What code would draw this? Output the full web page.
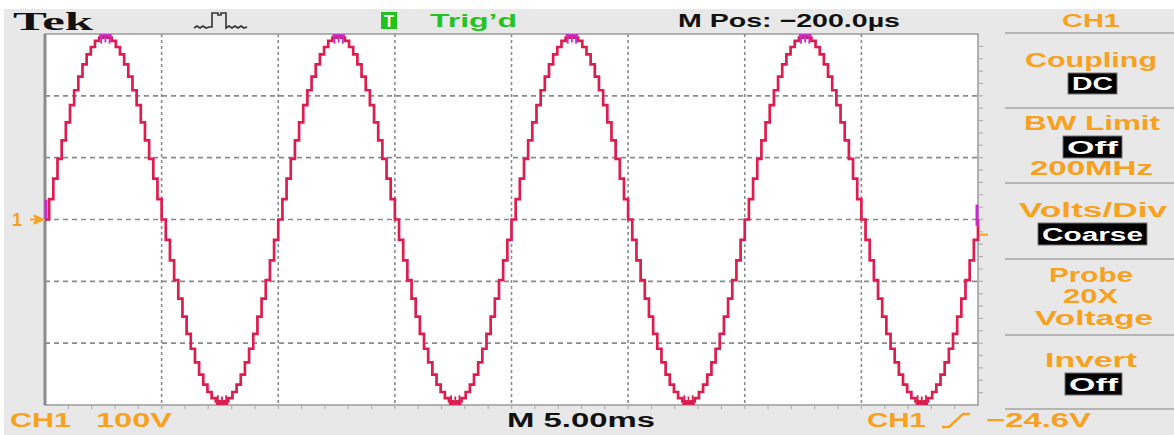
<!DOCTYPE html>
<html>
<head>
<meta charset="utf-8">
<script src="https://cdn.jsdelivr.net/npm/d3@7"></script>
<style>
  body { margin: 0; background: #fff; }
  text { font-family: 'Liberation Sans', Arial, sans-serif; font-weight: bold; }
</style>
</head>
<body>
<div id="scope"></div>
<script>
// one captured cycle of CH1 (volts per sample, staircase output)
const cycleVolts = [
  0, 33, 66, 98, 128, 157, 185, 209, 231, 251, 267, 279, 289, 294,
  296, 294, 289, 279, 267, 251, 231, 209, 185, 157, 128, 98, 66, 33,
  0, -33, -66, -98, -128, -157, -185, -209, -231, -251, -267, -279, -289, -294,
  -296, -294, -289, -279, -267, -251, -231, -209, -185, -157, -128, -98, -66, -33
]
const cycleCount = 4
const sampleMs = 10 / 56

const timeGridMs = [5, 10, 15, 20, 25, 30, 35]
const voltGrid = [-200, -100, 0, 100, 200]
const triggerLevel = -24.6

const width = 1174
const height = 435
const plot = { left: 45, right: 978, top: 34, bottom: 405 }

const orange = '#f7a11f'
const traceColor = '#dc1d4f'
const clipColor = '#c62bd0'

const svg = d3
  .select('#scope')
  .append('svg')
  .attr('width', width)
  .attr('height', height)

// trace samples
const samples = []
for (let c = 0; c < cycleCount; c++) {
  cycleVolts.forEach(v => samples.push(v))
}
samples.push(cycleVolts[0])
const points = samples.map((v, i) => ({ t: i * sampleMs, v: v }))

const xPositionScale = d3
  .scaleLinear()
  .domain([0, 40])
  .range([plot.left, plot.right])

const yPositionScale = d3
  .scaleLinear()
  .domain([-300, 300])
  .range([plot.bottom, plot.top])

// screen background
svg
  .append('rect')
  .attr('x', 4)
  .attr('y', 9)
  .attr('width', width - 4)
  .attr('height', height - 9)
  .attr('fill', '#e8e8e8')

svg
  .append('rect')
  .attr('x', plot.left)
  .attr('y', plot.top)
  .attr('width', plot.right - plot.left)
  .attr('height', plot.bottom - plot.top)
  .attr('fill', '#fff')

// grid
const grid = svg.append('g').attr('class', 'grid')
grid
  .selectAll('.vgrid')
  .data(timeGridMs)
  .enter()
  .append('line')
  .attr('x1', d => xPositionScale(d))
  .attr('x2', d => xPositionScale(d))
  .attr('y1', plot.top)
  .attr('y2', plot.bottom)
  .attr('stroke', '#8a8a8a')
  .attr('stroke-width', 1.6)
  .attr('stroke-dasharray', '3,3')

grid
  .selectAll('.hgrid')
  .data(voltGrid)
  .enter()
  .append('line')
  .attr('x1', plot.left)
  .attr('x2', plot.right)
  .attr('y1', d => yPositionScale(d))
  .attr('y2', d => yPositionScale(d))
  .attr('stroke', '#8a8a8a')
  .attr('stroke-width', 1.6)
  .attr('stroke-dasharray', '5,4')

// minor ticks along bottom and right edge
const minorX = d3.range(1, 40)
const minorY = d3.range(-280, 300, 20)
grid
  .selectAll('.mx')
  .data(minorX)
  .enter()
  .append('line')
  .attr('x1', d => xPositionScale(d))
  .attr('x2', d => xPositionScale(d))
  .attr('y1', plot.bottom + 1)
  .attr('y2', plot.bottom + 4)
  .attr('stroke', '#b0b0b0')
  .attr('stroke-width', 1.2)
grid
  .selectAll('.my')
  .data(minorY)
  .enter()
  .append('line')
  .attr('x1', plot.right + 1)
  .attr('x2', plot.right + 5)
  .attr('y1', d => yPositionScale(d))
  .attr('y2', d => yPositionScale(d))
  .attr('stroke', '#b0b0b0')
  .attr('stroke-width', 1.2)

// frame
svg
  .append('rect')
  .attr('x', plot.left)
  .attr('y', plot.top)
  .attr('width', plot.right - plot.left)
  .attr('height', plot.bottom - plot.top)
  .attr('fill', 'none')
  .attr('stroke', '#9a9a9a')
  .attr('stroke-width', 1.5)
svg
  .append('line')
  .attr('x1', plot.left)
  .attr('x2', plot.left)
  .attr('y1', plot.top)
  .attr('y2', plot.bottom)
  .attr('stroke', '#8c8c8c')
  .attr('stroke-width', 3)

// waveform
const line = d3
  .line()
  .x(d => xPositionScale(d.t))
  .y(d => yPositionScale(d.v))
  .curve(d3.curveStepAfter)

svg
  .append('path')
  .datum(points)
  .attr('d', line)
  .attr('fill', 'none')
  .attr('stroke', traceColor)
  .attr('stroke-width', 2.7)

// clipped peaks: flat top/bottom with small ticks
const peaks = points.filter(d => Math.abs(d.v) >= 294)
svg
  .selectAll('.peak')
  .data(peaks)
  .enter()
  .append('line')
  .attr('x1', d => xPositionScale(d.t))
  .attr('x2', d => xPositionScale(d.t + sampleMs))
  .attr('y1', d => yPositionScale(d.v > 0 ? 298 : -298))
  .attr('y2', d => yPositionScale(d.v > 0 ? 298 : -298))
  .attr('stroke', d => (d.v > 0 ? clipColor : traceColor))
  .attr('stroke-width', 2.4)
svg
  .selectAll('.peaktick')
  .data(peaks)
  .enter()
  .append('line')
  .attr('x1', d => xPositionScale(d.t + sampleMs / 2))
  .attr('x2', d => xPositionScale(d.t + sampleMs / 2))
  .attr('y1', d => yPositionScale(d.v > 0 ? 298 : -298))
  .attr('y2', d => yPositionScale(d.v) + (d.v > 0 ? 6 : -6))
  .attr('stroke', d => (d.v > 0 ? clipColor : traceColor))
  .attr('stroke-width', 1.8)

// trace ends in magenta
svg
  .append('line')
  .attr('x1', plot.left + 1)
  .attr('x2', plot.left + 1)
  .attr('y1', yPositionScale(0))
  .attr('y2', yPositionScale(32))
  .attr('stroke', clipColor)
  .attr('stroke-width', 3)
svg
  .append('line')
  .attr('x1', plot.right - 1)
  .attr('x2', plot.right - 1)
  .attr('y1', yPositionScale(-10))
  .attr('y2', yPositionScale(24))
  .attr('stroke', clipColor)
  .attr('stroke-width', 3)

// helpers for text
function label(x, y, str, len, color, size, family) {
  const t = svg
    .append('text')
    .attr('x', x)
    .attr('y', y)
    .attr('fill', color)
    .attr('font-size', size)
    .attr('textLength', len)
    .attr('lengthAdjust', 'spacingAndGlyphs')
    .text(str)
  if (family) t.style('font-family', family)
  return t
}

function box(x0, y0, x1, y1, str, size) {
  svg
    .append('rect')
    .attr('x', x0)
    .attr('y', y0)
    .attr('width', x1 - x0)
    .attr('height', y1 - y0)
    .attr('fill', '#000')
    .attr('stroke', '#777')
    .attr('stroke-width', 1)
  label(x0 + 4, y1 - 4, str, x1 - x0 - 8, '#fff', size)
}

// top bar
label(13, 30, 'Tek', 80, '#111', 25, "'Liberation Serif', 'DejaVu Serif', serif")
svg
  .append('path')
  .attr(
    'd',
    'M194,28 l3,-2 l3,2 l3,-2 l3,2 l3,-1 l3,0 V13 h6 v2 h3 v-2 h5 V28 l3,-2 l3,2 l3,-2 l3,2 l3,-2 l3,2 l3,-1'
  )
  .attr('fill', 'none')
  .attr('stroke', '#333')
  .attr('stroke-width', 1.6)

svg
  .append('rect')
  .attr('x', 381)
  .attr('y', 12)
  .attr('width', 16)
  .attr('height', 17)
  .attr('fill', '#1fc21f')
label(384, 27, 'T', 10, '#fff', 16)
label(430, 27, 'Trig\u2019d', 87, '#22c322', 19)
label(678, 27, 'M Pos: \u2212200.0\u00b5s', 222, '#111', 19)

// right menu
label(1062, 27, 'CH1', 58, orange, 19)
const separators = [33, 108, 183, 259, 335, 409]
svg
  .selectAll('.sep')
  .data(separators)
  .enter()
  .append('line')
  .attr('x1', 1005)
  .attr('x2', width)
  .attr('y1', d => d)
  .attr('y2', d => d)
  .attr('stroke', '#a5a5a5')
  .attr('stroke-width', 1.5)

label(1025, 67, 'Coupling', 132, orange, 20)
box(1068, 73, 1117, 94, 'DC', 18)
label(1024, 130, 'BW Limit', 136, orange, 20)
box(1063, 136, 1122, 158, 'Off', 18)
label(1030, 175, '200MHz', 123, orange, 20)
label(1019, 217, 'Volts/Div', 148, orange, 20)
box(1038, 223, 1147, 245, 'Coarse', 18)
label(1049, 282, 'Probe', 84, orange, 20)
label(1063, 303, '20X', 55, orange, 20)
label(1035, 325, 'Voltage', 118, orange, 20)
label(1045, 367, 'Invert', 92, orange, 20)
box(1065, 373, 1122, 395, 'Off', 18)

// channel marker and trigger level
label(12, 226, '1', 10, orange, 18)
svg
  .append('path')
  .attr('d', `M30,${yPositionScale(0)} h8 l-4,-4 l9,4 l-9,4 l4,-4`)
  .attr('fill', orange)
  .attr('stroke', orange)
  .attr('stroke-width', 2)
svg
  .append('line')
  .attr('x1', plot.right + 1)
  .attr('x2', plot.right + 10)
  .attr('y1', yPositionScale(triggerLevel))
  .attr('y2', yPositionScale(triggerLevel))
  .attr('stroke', orange)
  .attr('stroke-width', 2)

// bottom bar
label(10, 427, 'CH1', 61, orange, 20)
label(96, 427, '100V', 76, orange, 20)
label(507, 427, 'M 5.00ms', 148, '#111', 20)
label(867, 427, 'CH1', 59, orange, 20)
svg
  .append('path')
  .attr('d', 'M942,427 h7 l14,-13 h7')
  .attr('fill', 'none')
  .attr('stroke', orange)
  .attr('stroke-width', 2.5)
label(986, 427, '\u221224.6V', 105, orange, 20)
</script>
</body>
</html>
